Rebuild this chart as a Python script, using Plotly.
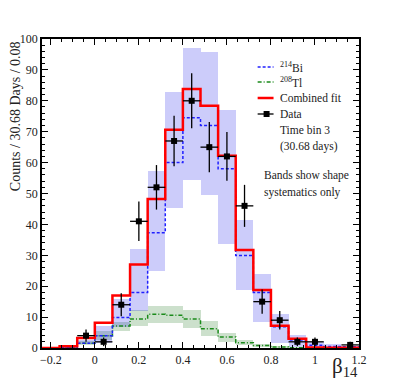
import plotly.graph_objects as go

# bin edges of the beta14 histogram
edges = [-0.24, -0.16, -0.08, 0.0, 0.08, 0.16, 0.24, 0.32, 0.40, 0.48,
         0.56, 0.64, 0.72, 0.80, 0.88, 0.96, 1.04, 1.12, 1.20]

combined = [0, 0.6, 3.2, 8.2, 17.0, 27.0, 48.2, 70.6, 83.8, 78.4,
            62.2, 31.7, 18.8, 7.2, 3.0, 0.2, 0.1, 0.1]
bi214 = [0, 0.2, 1.5, 4.0, 9.9, 18.0, 37.3, 60.0, 74.5, 72.0,
         58.0, 29.9, 18.0, 6.9, 2.6, 0.9, 0.5, 0.4]
tl208 = [0, 0.2, 1.5, 4.0, 7.1, 9.4, 10.9, 10.6, 9.4, 6.2,
         3.6, 1.7, 0.8, 0.3, 0.1, 0, 0, 0]

bi_lo = [0, 0, 1.2, 1.5, 6.9, 12.0, 25.0, 45.2, 54.4, 49.5,
         33.8, 18.8, 8.5, 1.5, 0.4, 0.3, 0.2, 0.1]
bi_hi = [0, 0.3, 2.7, 7.2, 15.8, 32.0, 57.3, 83.0, 97.2, 95.8,
         77.0, 41.5, 23.9, 10.9, 4.2, 1.8, 1.2, 0.8]
tl_lo = [0, 0, 1.0, 2.5, 5.5, 7.1, 8.0, 8.0, 6.4, 3.9,
         2.0, 1.0, 0.3, 0, 0, 0, 0, 0]
tl_hi = [0, 0.3, 2.3, 5.5, 8.5, 12.3, 13.6, 13.5, 12.3, 8.7,
         5.0, 2.6, 1.3, 0.6, 0.3, 0, 0, 0]

data_x = [-0.04, 0.04, 0.12, 0.20, 0.28, 0.36, 0.44, 0.52, 0.60, 0.68,
          0.76, 0.84, 0.92, 1.00, 1.16]
data_y = [4, 2, 14, 41, 52, 67, 80, 65, 62, 46, 15, 9, 2, 2, 1]
data_err = [2.0, 1.4, 3.7, 6.4, 7.2, 8.2, 8.9, 8.1, 7.9, 6.8, 3.9, 3.0, 1.4, 1.4, 1.0]

xtick_vals = [-0.2, 0, 0.2, 0.4, 0.6, 0.8, 1.0, 1.2]
xtick_text = ["\u22120.2", "0", "0.2", "0.4", "0.6", "0.8", "1", "1.2"]

binw = 0.08
centers = [(a + b) / 2 for a, b in zip(edges[:-1], edges[1:])]
FONT = "Liberation Serif"

def step(vals):
    return edges, list(vals) + [vals[-1]]

fig = go.Figure()

# systematic bands
fig.add_trace(go.Bar(x=centers, y=[h - l for h, l in zip(tl_hi, tl_lo)], base=tl_lo,
                     width=binw, marker=dict(color="rgba(0,100,0,0.2)", line_width=0),
                     showlegend=False, hoverinfo="skip"))
fig.add_trace(go.Bar(x=centers, y=[h - l for h, l in zip(bi_hi, bi_lo)], base=bi_lo,
                     width=binw, marker=dict(color="rgba(0,0,230,0.2)", line_width=0),
                     showlegend=False, hoverinfo="skip"))

sx, sy = step(tl208)
fig.add_trace(go.Scatter(x=sx, y=sy, mode="lines", line_shape="hv",
                         line=dict(color="#1a8a1a", width=1.5, dash="4px,2px,1px,2px"),
                         showlegend=False))
sx, sy = step(bi214)
fig.add_trace(go.Scatter(x=sx, y=sy, mode="lines", line_shape="hv",
                         line=dict(color="#2020ff", width=1.5, dash="3px,2px"),
                         showlegend=False))
sx, sy = step(combined)
fig.add_trace(go.Scatter(x=sx, y=sy, mode="lines", line_shape="hv",
                         line=dict(color="#ff0000", width=2.5),
                         showlegend=False))

fig.add_trace(go.Scatter(x=data_x, y=data_y, mode="markers",
                         marker=dict(symbol="square", size=6, color="black"),
                         error_y=dict(type="data", array=data_err, width=0, thickness=1.3, color="black"),
                         error_x=dict(type="constant", value=binw / 2, width=0, thickness=1.3, color="black"),
                         showlegend=False))

# hand-made legend, in paper coordinates (pixel positions of the page)
def px(xp):
    return (xp - 40) / 319.0

def py(yp):
    return (348 - yp) / 309.0

legend_lines = [
    (67, "#2020ff", 1.5, "3px,2px"),
    (82, "#1a8a1a", 1.5, "4px,2px,1px,2px"),
    (98, "#ff0000", 2.5, "solid"),
    (114, "black", 1.3, "solid"),
]
for yy, col, w, dash in legend_lines:
    fig.add_shape(type="line", xref="paper", yref="paper",
                  x0=px(257), x1=px(273), y0=py(yy), y1=py(yy),
                  line=dict(color=col, width=w, dash=dash))
fig.add_shape(type="rect", xref="paper", yref="paper",
              x0=px(263), x1=px(269), y0=py(117), y1=py(111),
              fillcolor="black", line_width=0)

legend_text = [
    (67, "<sup>214</sup>Bi"),
    (82, "<sup>208</sup>Tl"),
    (98, "Combined fit"),
    (114, "Data"),
    (130, "Time bin 3"),
    (146, "(30.68 days)"),
    (176, "Bands show shape"),
    (192, "systematics only"),
]
for yy, txt in legend_text:
    xx = 261 if yy > 160 else 277
    fig.add_annotation(x=px(xx), y=py(yy), xref="paper", yref="paper", text=txt,
                       showarrow=False, xanchor="left", yanchor="middle",
                       font=dict(family=FONT, size=11.5, color="#222"))

# axis titles
fig.add_annotation(x=px(13), y=1.0, xref="paper", yref="paper",
                   text="Counts / 30.68 Days / 0.08", textangle=-90, showarrow=False,
                   xanchor="center", yanchor="top",
                   font=dict(family=FONT, size=14, color="#222"))
fig.add_annotation(x=px(360), y=py(352), xref="paper", yref="paper",
                   text="\u03b2<sub>14</sub>", showarrow=False,
                   xanchor="right", yanchor="top",
                   font=dict(family=FONT, size=21, color="#222"))

axis_common = dict(showline=True, linecolor="black", linewidth=1.5, mirror="allticks",
                   ticks="inside", ticklen=6, tickcolor="black", showgrid=False,
                   zeroline=False, tickfont=dict(family=FONT, size=12, color="#222"))

fig.update_xaxes(range=[-0.24, 1.2], tickvals=xtick_vals, ticktext=xtick_text,
                 minor=dict(ticks="inside", ticklen=3, dtick=0.05, tick0=0, tickcolor="black"),
                 **axis_common)
fig.update_yaxes(range=[0, 100], dtick=10,
                 minor=dict(ticks="inside", ticklen=3, dtick=2, tickcolor="black"),
                 **axis_common)

# the page adds an 8px body margin, so the figure is 8px smaller than the window
fig.update_layout(width=391, height=379, barmode="overlay", bargap=0,
                  margin=dict(l=32, r=40, t=31, b=39),
                  plot_bgcolor="white", paper_bgcolor="white",
                  font=dict(family=FONT, size=12, color="#222"))

fig.write_html("out.html")
